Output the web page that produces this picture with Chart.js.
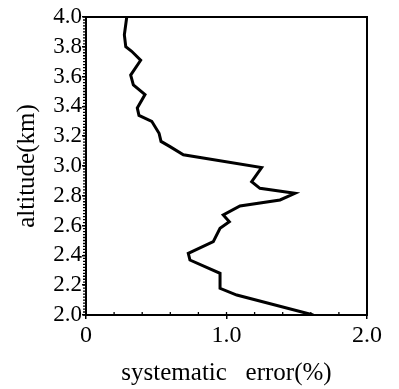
<!DOCTYPE html>
<html>
<head>
<meta charset="utf-8">
<script src="https://cdn.jsdelivr.net/npm/chart.js@4.4.0/dist/chart.umd.min.js"></script>
<style>
  html, body { margin: 0; padding: 0; background: #fff; }
  #wrap { width: 399px; height: 389px; }
</style>
</head>
<body>
<div id="wrap"><canvas id="errChart"></canvas></div>
<script>
// altitude profile of the systematic error, read from top to bottom
const altitude = [4.0, 3.88, 3.80, 3.77, 3.71, 3.61, 3.545, 3.48, 3.39, 3.34, 3.30, 3.22, 3.165, 3.13, 3.075,
    2.99, 2.895, 2.85, 2.817, 2.772, 2.732, 2.671, 2.626, 2.582, 2.492, 2.414, 2.369, 2.28, 2.179, 2.134, 2.0];
const sysError = [0.29, 0.273, 0.283, 0.325, 0.389, 0.318, 0.337, 0.42, 0.365, 0.377, 0.468, 0.52, 0.534, 0.598, 0.693,
    1.25, 1.179, 1.238, 1.487, 1.381, 1.096, 0.977, 1.02, 0.954, 0.906, 0.728, 0.74, 0.954, 0.954, 1.073, 1.618];
const xTickLabels = ["0", "1.0", "2.0"];

const serif = "'Liberation Serif', 'Times New Roman', serif";

// box round the plot + little inward/outward minor ticks
const frameTicks = {
    id: "frameTicks",
    afterDraw(chart) {
        const { ctx, chartArea: a, scales } = chart;
        ctx.save();
        ctx.strokeStyle = "#000";
        ctx.lineWidth = 2;
        ctx.strokeRect(a.left, a.top, a.right - a.left, a.bottom - a.top);
        ctx.lineWidth = 1.3;
        ctx.beginPath();
        for (let i = 0; i <= 100; i++) {
            const y = scales.y.getPixelForValue(2 + i * 0.02);
            ctx.moveTo(a.left, y);
            ctx.lineTo(a.left - 3, y);
        }
        for (let i = 0; i <= 10; i++) {
            const x = scales.x.getPixelForValue(i * 0.2);
            ctx.moveTo(x, a.bottom);
            ctx.lineTo(x, a.bottom - 3);
        }
        ctx.stroke();
        ctx.restore();
    }
};

const ctx = document.getElementById("errChart").getContext("2d");
new Chart(ctx, {
    type: "scatter",
    data: {
        datasets: [{
            data: altitude.map((h, i) => ({ x: sysError[i], y: h })),
            showLine: true,
            borderColor: "#000",
            borderWidth: 3,
            pointRadius: 0,
            tension: 0
        }]
    },
    options: {
        responsive: true,
        maintainAspectRatio: false,
        animation: false,
        layout: { padding: { top: 17, right: 32, left: 0, bottom: 0 } },
        plugins: { legend: { display: false }, tooltip: { enabled: false } },
        scales: {
            x: {
                type: "linear",
                min: 0,
                max: 2,
                afterFit: s => { s.height = 74; },
                afterBuildTicks: s => { s.ticks = [0, 1, 2].map(v => ({ value: v })); },
                ticks: {
                    color: "#000",
                    padding: 2,
                    maxRotation: 0,
                    font: { family: serif, size: 24 },
                    callback: (v) => xTickLabels[Math.round(v)]
                },
                grid: { drawOnChartArea: false, tickLength: 4, color: "#000", lineWidth: 1.5 },
                border: { color: "#000", width: 2 },
                title: {
                    display: true,
                    text: "systematic   error(%)",
                    color: "#000",
                    font: { family: serif, size: 25 },
                    padding: { top: 0, bottom: 1 }
                }
            },
            y: {
                type: "linear",
                min: 2,
                max: 4,
                afterFit: s => { s.width = 86; },
                ticks: {
                    stepSize: 0.2,
                    autoSkip: false,
                    color: "#000",
                    padding: 0,
                    font: { family: serif, size: 23 },
                    callback: (v) => Number(v).toFixed(1)
                },
                grid: { drawOnChartArea: false, tickLength: 4, color: "#000", lineWidth: 1.5 },
                border: { color: "#000", width: 2 },
                title: {
                    display: true,
                    text: "altitude(km)",
                    color: "#000",
                    font: { family: serif, size: 25 },
                    padding: { top: 12, bottom: 0 }
                }
            }
        }
    },
    plugins: [frameTicks]
});
</script>
</body>
</html>
